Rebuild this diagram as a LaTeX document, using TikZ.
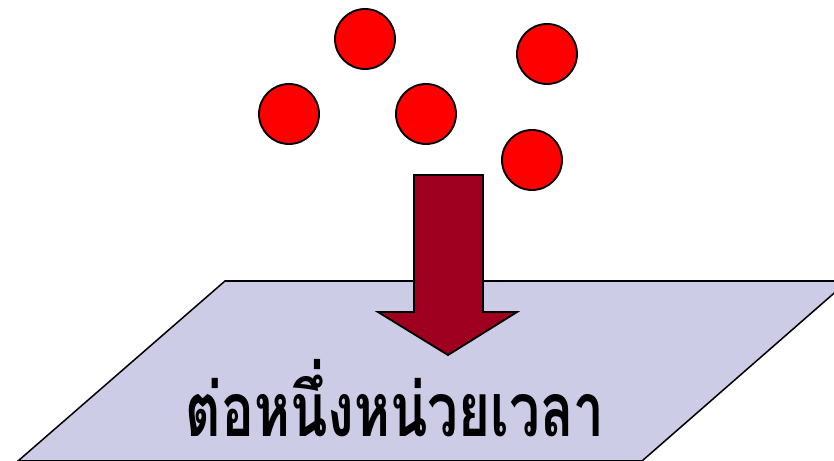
\documentclass[tikz,border=0pt]{standalone}
\usepackage{fontspec}
\newfontfamily\thaifont[Script=Thai]{Loma}
\usetikzlibrary{positioning}
\definecolor{ballred}{RGB}{255,0,0}
\definecolor{arrowred}{RGB}{160,0,32}
\definecolor{planeblue}{RGB}{204,204,230}

\begin{document}
\begin{tikzpicture}[
    x=0.03cm, y=-0.03cm,
    ball/.style={circle,draw,line width=1.6pt,fill=ballred,minimum size=1.8cm,inner sep=0pt},
    plane/.style={draw,line width=1.3pt,fill=planeblue},
    downarrow/.style={draw,line width=1.6pt,fill=arrowred,line join=miter},
    caption/.style={font=\thaifont\bfseries\fontsize{64}{72}\selectfont,inner sep=0pt,text depth=0pt,anchor=base,xscale=0.73}
]
\useasboundingbox (0,0) rectangle (834,461);
\clip (0,0) rectangle (834,461);

% surface
\draw[plane] (225,281) -- (848,281) -- (642,461) -- (18,461) -- cycle;

% particles
\node[ball] (b1) at (365,39) {};
\node[ball] (b2) at (547,54) {};
\node[ball] (b3) at (289,114) {};
\node[ball] (b4) at (426,114) {};
\node[ball] (b5) at (532,160) {};

% flux arrow
\draw[downarrow] (414,175) -- (483,175) -- (483,312) -- (517,312)
    -- (448,355) -- (378,312) -- (414,312) -- cycle;

\node[caption] (rate) at (395,437) {ต่อหนึ่งหน่วยเวลา};
\end{tikzpicture}
\end{document}
